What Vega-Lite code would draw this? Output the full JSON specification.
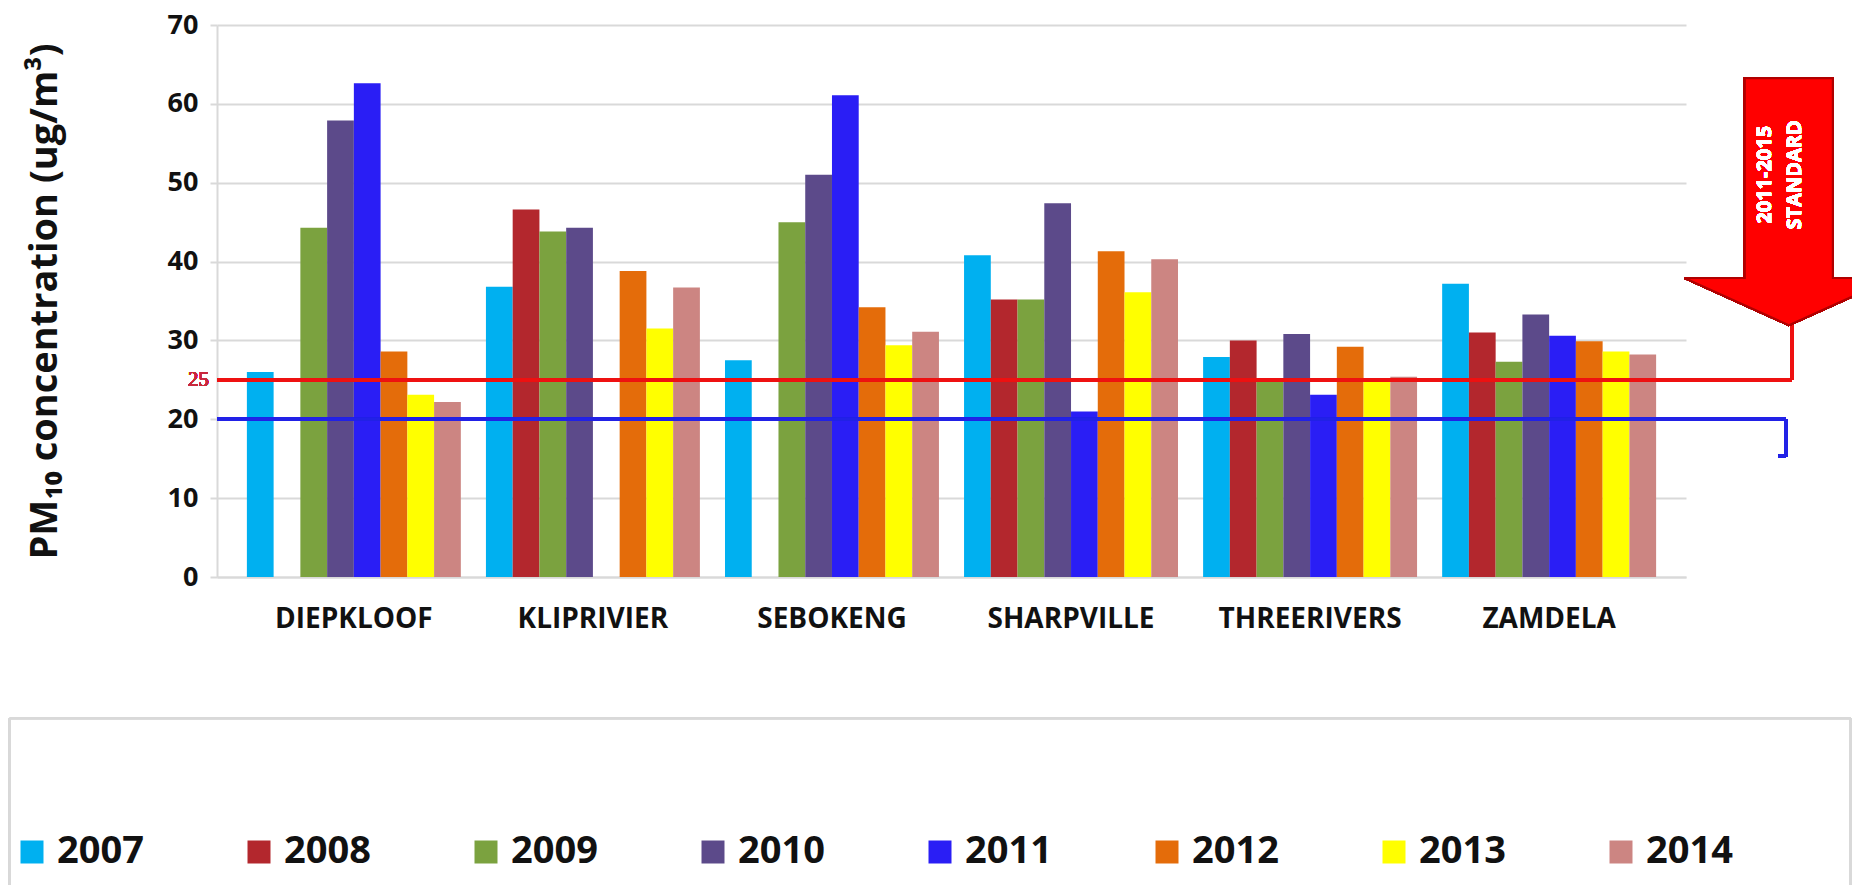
{
  "$schema": "https://vega.github.io/schema/vega-lite/v6.json",
  "autosize": {"type": "none"},
  "width": 1469,
  "height": 552,
  "padding": {"left": 217, "top": 25, "right": 166, "bottom": 308},
  "background": "white",
  "config": {
    "view": {"stroke": null},
    "font": "Open Sans"
  },
  "data": {
    "values": [
      {"site": "DIEPKLOOF", "year": "2007", "value": 26.0},
      {"site": "DIEPKLOOF", "year": "2009", "value": 44.3},
      {"site": "DIEPKLOOF", "year": "2010", "value": 57.9},
      {"site": "DIEPKLOOF", "year": "2011", "value": 62.6},
      {"site": "DIEPKLOOF", "year": "2012", "value": 28.6},
      {"site": "DIEPKLOOF", "year": "2013", "value": 23.1},
      {"site": "DIEPKLOOF", "year": "2014", "value": 22.2},
      {"site": "KLIPRIVIER", "year": "2007", "value": 36.8},
      {"site": "KLIPRIVIER", "year": "2008", "value": 46.6},
      {"site": "KLIPRIVIER", "year": "2009", "value": 43.8},
      {"site": "KLIPRIVIER", "year": "2010", "value": 44.3},
      {"site": "KLIPRIVIER", "year": "2012", "value": 38.8},
      {"site": "KLIPRIVIER", "year": "2013", "value": 31.5},
      {"site": "KLIPRIVIER", "year": "2014", "value": 36.7},
      {"site": "SEBOKENG", "year": "2007", "value": 27.5},
      {"site": "SEBOKENG", "year": "2009", "value": 45.0},
      {"site": "SEBOKENG", "year": "2010", "value": 51.0},
      {"site": "SEBOKENG", "year": "2011", "value": 61.1},
      {"site": "SEBOKENG", "year": "2012", "value": 34.2},
      {"site": "SEBOKENG", "year": "2013", "value": 29.4},
      {"site": "SEBOKENG", "year": "2014", "value": 31.1},
      {"site": "SHARPVILLE", "year": "2007", "value": 40.8},
      {"site": "SHARPVILLE", "year": "2008", "value": 35.2},
      {"site": "SHARPVILLE", "year": "2009", "value": 35.2},
      {"site": "SHARPVILLE", "year": "2010", "value": 47.4},
      {"site": "SHARPVILLE", "year": "2011", "value": 21.0},
      {"site": "SHARPVILLE", "year": "2012", "value": 41.3},
      {"site": "SHARPVILLE", "year": "2013", "value": 36.1},
      {"site": "SHARPVILLE", "year": "2014", "value": 40.3},
      {"site": "THREERIVERS", "year": "2007", "value": 27.9},
      {"site": "THREERIVERS", "year": "2008", "value": 30.0},
      {"site": "THREERIVERS", "year": "2009", "value": 25.2},
      {"site": "THREERIVERS", "year": "2010", "value": 30.8},
      {"site": "THREERIVERS", "year": "2011", "value": 23.1},
      {"site": "THREERIVERS", "year": "2012", "value": 29.2},
      {"site": "THREERIVERS", "year": "2013", "value": 25.0},
      {"site": "THREERIVERS", "year": "2014", "value": 25.4},
      {"site": "ZAMDELA", "year": "2007", "value": 37.2},
      {"site": "ZAMDELA", "year": "2008", "value": 31.0},
      {"site": "ZAMDELA", "year": "2009", "value": 27.3},
      {"site": "ZAMDELA", "year": "2010", "value": 33.3},
      {"site": "ZAMDELA", "year": "2011", "value": 30.6},
      {"site": "ZAMDELA", "year": "2012", "value": 29.9},
      {"site": "ZAMDELA", "year": "2013", "value": 28.6},
      {"site": "ZAMDELA", "year": "2014", "value": 28.2}
    ]
  },
  "resolve": {"scale": {"x": "independent"}, "axis": {"x": "independent"}},
  "layer": [
    {
      "mark": {"type": "bar"},
      "encoding": {
        "x": {
          "field": "site", "type": "nominal",
          "sort": ["DIEPKLOOF", "KLIPRIVIER", "SEBOKENG", "SHARPVILLE", "THREERIVERS", "ZAMDELA"],
          "scale": {"paddingInner": 0.105, "paddingOuter": 0.125},
          "axis": {
            "title": null, "labelAngle": 0, "ticks": false, "labelLimit": 0,
            "labelFont": "Open Sans", "labelFontSize": 28, "labelFontWeight": "bold", "labelColor": "#111111",
            "labelPadding": 28, "domainColor": "#d9d9d9", "domainWidth": 2
          }
        },
        "xOffset": {
          "field": "year", "type": "nominal",
          "scale": {"domain": ["2007", "2008", "2009", "2010", "2011", "2012", "2013", "2014"], "paddingInner": 0, "paddingOuter": 0}
        },
        "y": {
          "field": "value", "type": "quantitative",
          "scale": {"domain": [0, 70], "nice": false},
          "axis": {
            "values": [0, 10, 20, 30, 40, 50, 60, 70],
            "title": "PM₁₀ concentration (ug/m³)",
            "titleFont": "Open Sans", "titleFontSize": 38, "titleFontWeight": "bold", "titleColor": "#111111",
            "titleX": -172, "titleY": 276, "titleAngle": -90, "titleAlign": "center", "titleBaseline": "middle",
            "labelFont": "Open Sans", "labelFontSize": 27, "labelFontWeight": "bold", "labelColor": "#111111",
            "labelPadding": 12,
            "gridColor": "#d9d9d9", "gridWidth": 2,
            "domainColor": "#d9d9d9", "domainWidth": 2,
            "tickColor": "#d9d9d9", "tickSize": 7, "tickWidth": 2
          }
        },
        "color": {
          "field": "year", "type": "nominal",
          "scale": {
            "domain": ["2007", "2008", "2009", "2010", "2011", "2012", "2013", "2014"],
            "range": ["#00b0f0", "#b3272d", "#7ba23f", "#5c4a8a", "#2a1ef5", "#e46c0a", "#ffff00", "#cc8582"]
          },
          "legend": {
            "title": null, "orient": "none", "legendX": -204, "legendY": 808,
            "direction": "horizontal", "columns": 8, "columnPadding": 96,
            "symbolType": "square", "symbolSize": 529, "symbolStrokeWidth": 0, "symbolOpacity": 1,
            "labelFont": "Open Sans", "labelFontSize": 38, "labelFontWeight": "bold", "labelColor": "#111111",
            "labelOffset": 6
          }
        }
      }
    },
    {
      "mark": {"type": "rule", "color": "#d9d9d9", "strokeWidth": 2},
      "encoding": {
        "x": {"datum": -0.141, "type": "quantitative", "scale": {"domain": [0, 1]}, "axis": null},
        "x2": {"datum": 1.112},
        "y": {"datum": -17.9, "type": "quantitative"}
      }
    },
    {
      "mark": {"type": "rule", "color": "#d9d9d9", "strokeWidth": 2},
      "encoding": {
        "x": {"datum": -0.141, "type": "quantitative", "scale": {"domain": [0, 1]}, "axis": null},
        "y": {"datum": -17.9, "type": "quantitative"},
        "y2": {"datum": -45}
      }
    },
    {
      "mark": {"type": "rule", "color": "#d9d9d9", "strokeWidth": 2},
      "encoding": {
        "x": {"datum": 1.112, "type": "quantitative", "scale": {"domain": [0, 1]}, "axis": null},
        "y": {"datum": -17.9, "type": "quantitative"},
        "y2": {"datum": -45}
      }
    },
    {
      "mark": {"type": "rule", "color": "#ee1111", "strokeWidth": 3},
      "encoding": {
        "x": {"datum": 0, "type": "quantitative", "scale": {"domain": [0, 1]}, "axis": null},
        "x2": {"datum": 1.072},
        "y": {"datum": 25, "type": "quantitative"}
      }
    },
    {
      "mark": {"type": "rule", "color": "#ee1111", "strokeWidth": 3},
      "encoding": {
        "x": {"datum": 1.072, "type": "quantitative", "scale": {"domain": [0, 1]}, "axis": null},
        "y": {"datum": 25, "type": "quantitative"},
        "y2": {"datum": 32.3}
      }
    },
    {
      "mark": {"type": "rule", "color": "#2222e6", "strokeWidth": 3},
      "encoding": {
        "x": {"datum": 0, "type": "quantitative", "scale": {"domain": [0, 1]}, "axis": null},
        "x2": {"datum": 1.068},
        "y": {"datum": 20, "type": "quantitative"}
      }
    },
    {
      "mark": {"type": "rule", "color": "#2222e6", "strokeWidth": 3},
      "encoding": {
        "x": {"datum": 1.068, "type": "quantitative", "scale": {"domain": [0, 1]}, "axis": null},
        "y": {"datum": 20, "type": "quantitative"},
        "y2": {"datum": 15.3}
      }
    },
    {
      "mark": {"type": "rule", "color": "#2222e6", "strokeWidth": 3},
      "encoding": {
        "x": {"datum": 1.063, "type": "quantitative", "scale": {"domain": [0, 1]}, "axis": null},
        "x2": {"datum": 1.068},
        "y": {"datum": 15.3, "type": "quantitative"}
      }
    },
    {
      "mark": {"type": "text", "color": "#c8283c", "fontSize": 21, "align": "right", "baseline": "middle", "dx": -8, "font": "Liberation Serif"},
      "encoding": {
        "x": {"datum": 0, "type": "quantitative", "scale": {"domain": [0, 1]}, "axis": null},
        "y": {"datum": 25, "type": "quantitative"},
        "text": {"value": "25"}
      }
    },
    {
      "mark": {
        "type": "point", "filled": true, "opacity": 1,
        "shape": "M-0.356,-1 L0.356,-1 L0.356,0.619 L0.842,0.619 L0,1 L-0.842,0.619 L-0.356,0.619 Z",
        "size": 61009, "fill": "#ff0000", "stroke": "#b00000", "strokeWidth": 2
      },
      "encoding": {
        "x": {"datum": 1.07, "type": "quantitative", "scale": {"domain": [0, 1]}, "axis": null},
        "y": {"datum": 47.6, "type": "quantitative"}
      }
    },
    {
      "mark": {"type": "text", "color": "white", "fontSize": 20, "fontWeight": "bold", "angle": 270, "align": "center", "baseline": "middle", "font": "Open Sans"},
      "encoding": {
        "x": {"datum": 1.054, "type": "quantitative", "scale": {"domain": [0, 1]}, "axis": null},
        "y": {"datum": 51, "type": "quantitative"},
        "text": {"value": "2011-2015"}
      }
    },
    {
      "mark": {"type": "text", "color": "white", "fontSize": 20, "fontWeight": "bold", "angle": 270, "align": "center", "baseline": "middle", "font": "Open Sans"},
      "encoding": {
        "x": {"datum": 1.074, "type": "quantitative", "scale": {"domain": [0, 1]}, "axis": null},
        "y": {"datum": 51, "type": "quantitative"},
        "text": {"value": "STANDARD"}
      }
    }
  ]
}
